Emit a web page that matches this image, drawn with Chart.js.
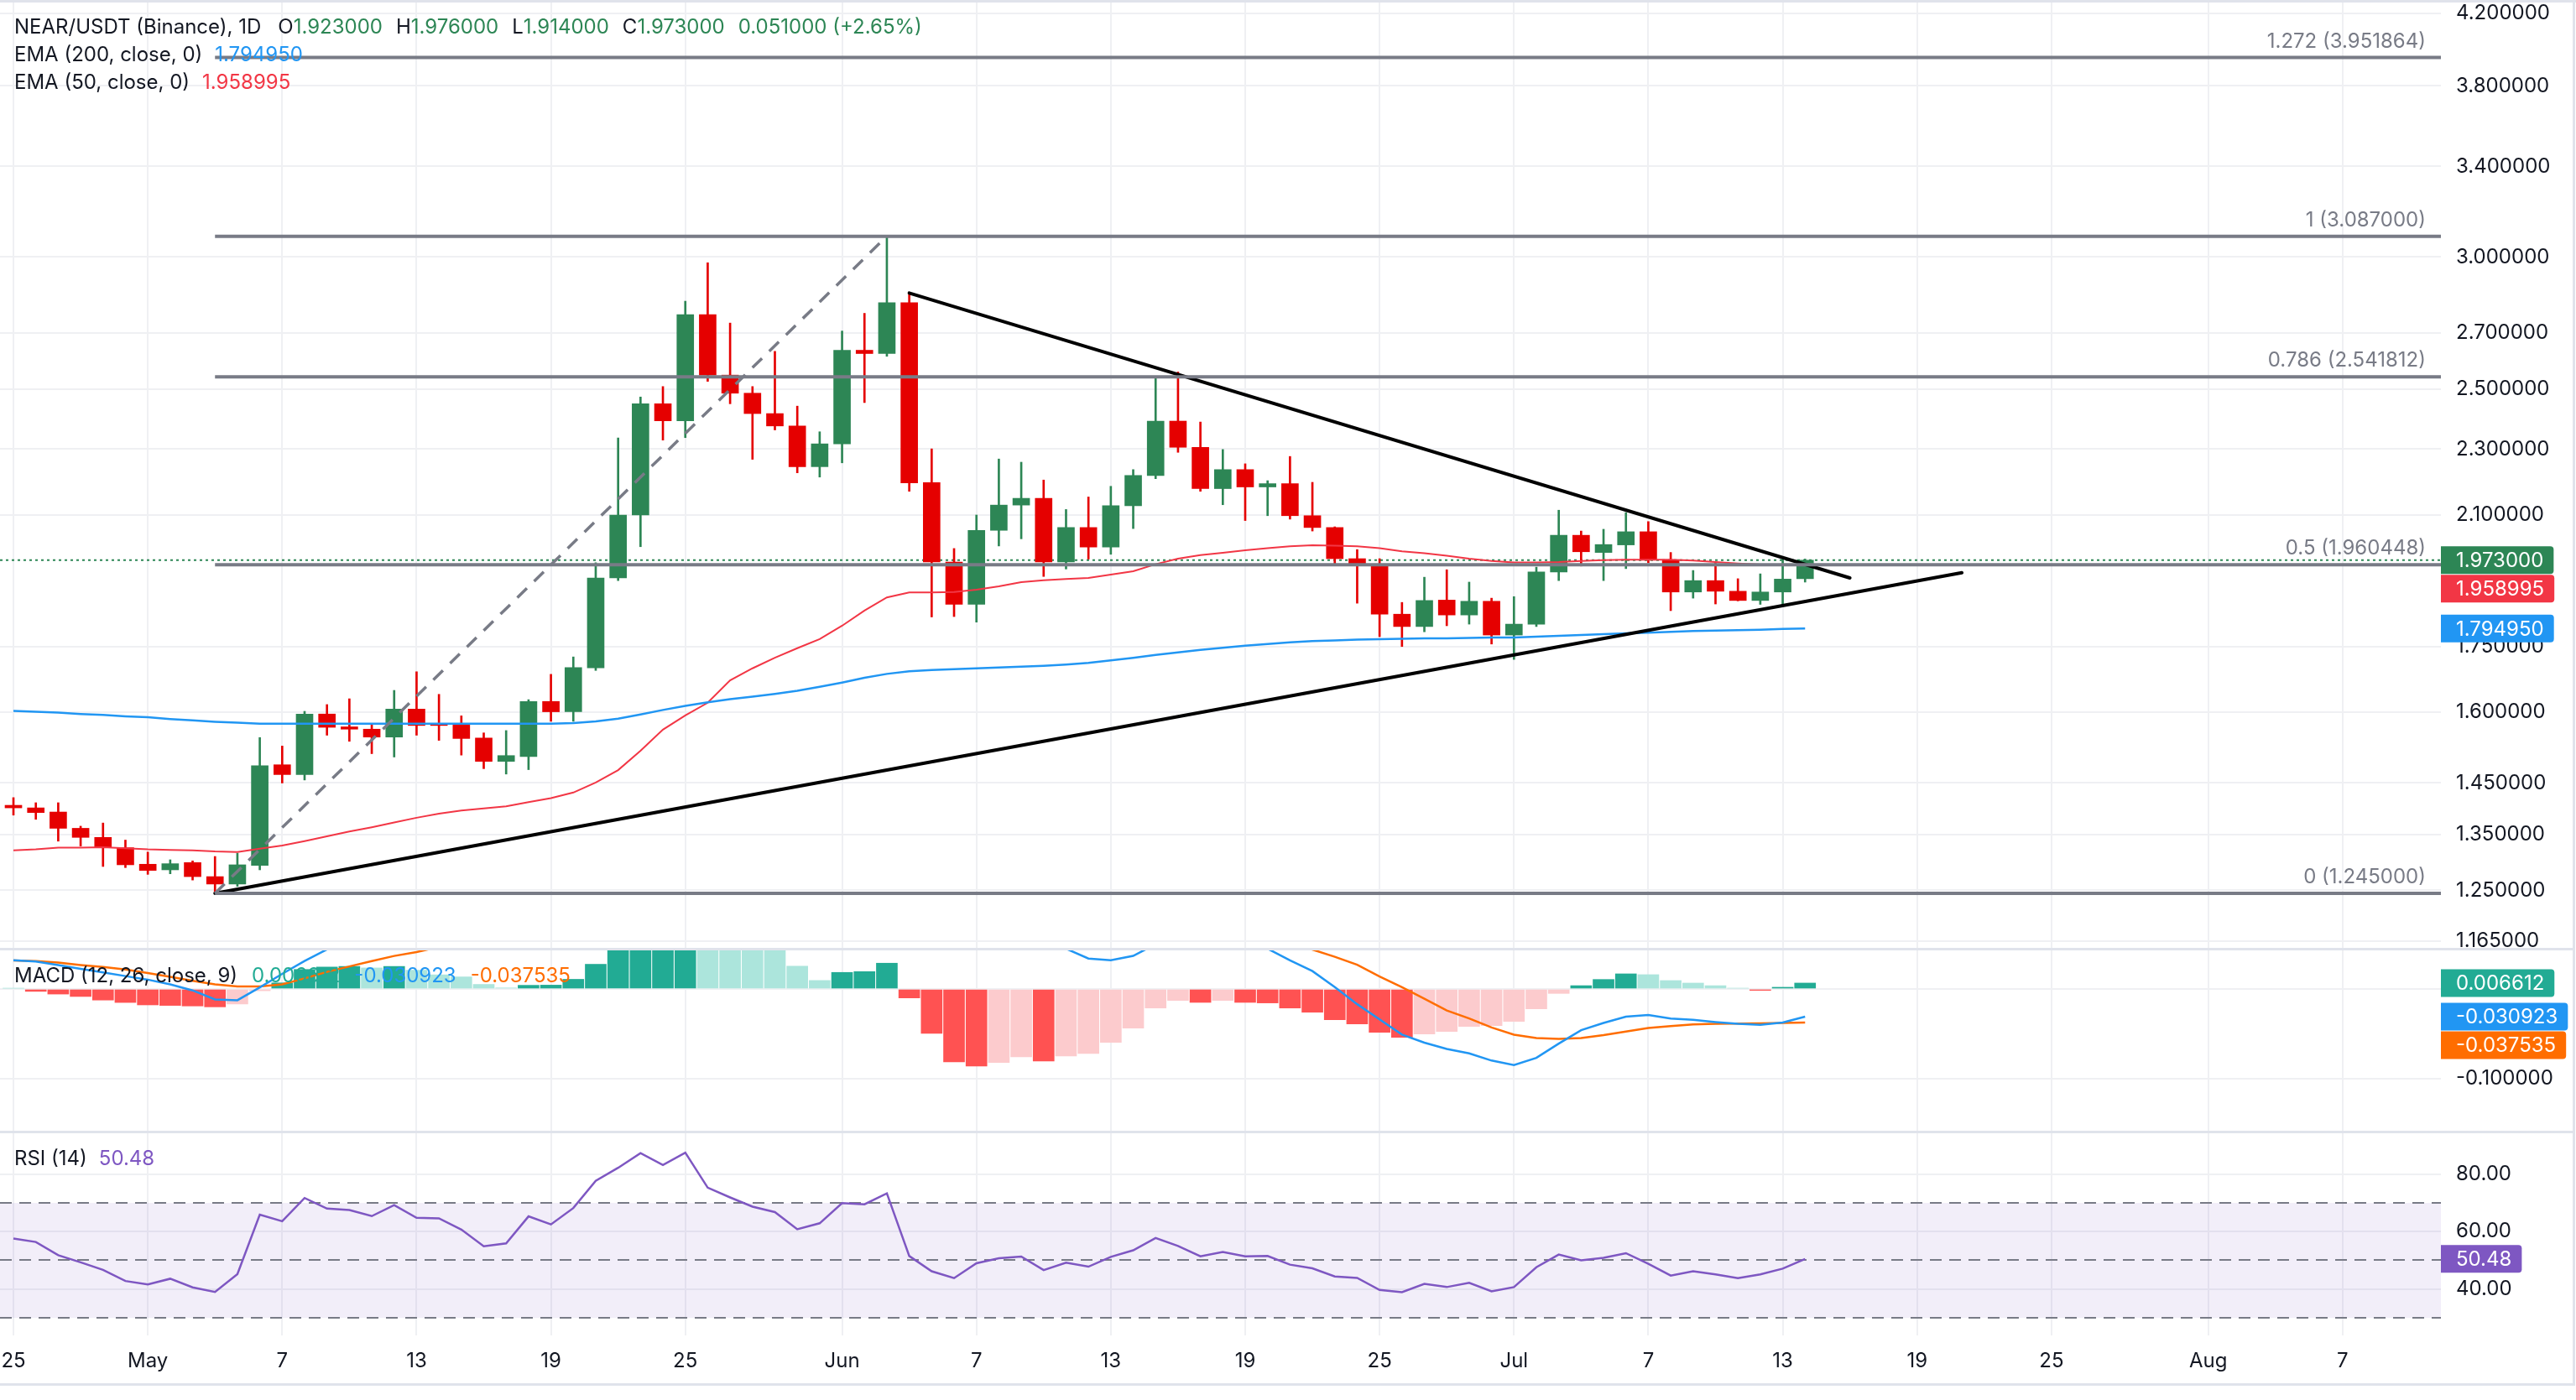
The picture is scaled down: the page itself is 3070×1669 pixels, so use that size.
<!DOCTYPE html>
<html>
<head>
<meta charset="utf-8">
<title>NEAR/USDT 1D</title>
<script src="https://cdn.jsdelivr.net/npm/chart.js@4.4.1/dist/chart.umd.min.js"></script>
<style>
  html, body { margin: 0; padding: 0; background: #ffffff; }
  #wrap { position: relative; width: 3070px; height: 1669px; overflow: hidden; background: #ffffff; }
  #wrap canvas { position: absolute; left: 0; }
  .rule { position: absolute; background: #e0e3eb; }
</style>
</head>
<body>
<div id="wrap">
  <canvas id="priceChart" width="3070" height="1131" style="top:0px"></canvas>
  <canvas id="macdChart" width="3070" height="215" style="top:1133px"></canvas>
  <canvas id="rsiChart" width="3070" height="298" style="top:1351px"></canvas>
  <div class="rule" style="left:0;top:0;width:3070px;height:3px"></div>
  <div class="rule" style="left:0;top:1130px;width:3068px;height:3px"></div>
  <div class="rule" style="left:0;top:1348px;width:3068px;height:3px"></div>
  <div class="rule" style="left:0;top:1649px;width:3068px;height:3px"></div>
  <div class="rule" style="left:3066px;top:0;width:3px;height:1652px"></div>
</div>
<script>
const FONT = 'Inter, "Noto Sans", sans-serif';
const TEXT = '#131722';
const GRID = '#eff0f3';
const UP = '#2d8655';
const DOWN = '#e50000';

// daily candles, 25 Apr .. 14 Jul (index 0 = 25 Apr)
const opens = [
  1.406, 1.401, 1.393, 1.362, 1.345, 1.326,
  1.296, 1.286, 1.299, 1.274, 1.261, 1.294, 1.487, 1.467, 1.595, 1.567, 1.562, 1.545, 1.606, 1.573, 1.573, 1.543,
  1.494, 1.504, 1.623, 1.600, 1.700, 1.925, 2.100, 2.449, 2.392, 2.770, 2.548, 2.485, 2.416, 2.375, 2.245,
  2.317, 2.637, 2.625, 2.816, 2.196, 1.968, 1.856, 2.056, 2.129, 2.149, 1.968, 2.064, 2.009, 2.127, 2.218,
  2.391, 2.306, 2.178, 2.236, 2.183, 2.193, 2.098, 2.064, 1.977, 1.961, 1.831, 1.800, 1.867, 1.829, 1.864,
  1.779, 1.806, 1.941, 2.042, 1.994, 2.015, 2.052, 1.973, 1.888, 1.918, 1.890, 1.866, 1.888, 1.923
];
const highs = [
  1.421, 1.411, 1.411, 1.366, 1.372, 1.340,
  1.318, 1.304, 1.302, 1.310, 1.316, 1.544, 1.526, 1.601, 1.616, 1.629, 1.573, 1.648, 1.691, 1.639, 1.591, 1.554,
  1.559, 1.627, 1.685, 1.726, 1.966, 2.336, 2.472, 2.508, 2.822, 2.976, 2.738, 2.508, 2.633, 2.441, 2.356,
  2.708, 2.775, 3.087, 2.854, 2.301, 2.005, 2.100, 2.269, 2.259, 2.204, 2.116, 2.153, 2.185, 2.236, 2.542,
  2.559, 2.388, 2.299, 2.254, 2.202, 2.277, 2.197, 2.066, 2.002, 1.977, 1.861, 1.927, 1.947, 1.914, 1.872,
  1.876, 1.954, 2.114, 2.054, 2.059, 2.107, 2.081, 1.994, 1.945, 1.966, 1.923, 1.936, 1.975, 1.976
];
const lows = [
  1.387, 1.379, 1.338, 1.329, 1.292, 1.290,
  1.278, 1.279, 1.268, 1.245, 1.257, 1.286, 1.450, 1.456, 1.549, 1.536, 1.510, 1.503, 1.549, 1.538, 1.507, 1.479,
  1.468, 1.477, 1.579, 1.579, 1.694, 1.918, 2.010, 2.329, 2.337, 2.526, 2.449, 2.268, 2.362, 2.226, 2.213,
  2.257, 2.453, 2.615, 2.170, 1.824, 1.825, 1.811, 2.012, 2.032, 1.929, 1.949, 1.976, 1.989, 2.061, 2.208,
  2.290, 2.170, 2.130, 2.084, 2.098, 2.088, 2.054, 1.961, 1.859, 1.775, 1.751, 1.787, 1.802, 1.806, 1.757,
  1.720, 1.800, 1.918, 1.957, 1.918, 1.950, 1.966, 1.840, 1.872, 1.857, 1.865, 1.856, 1.856, 1.914
];
const closes = [
  1.401, 1.392, 1.362, 1.345, 1.326, 1.295,
  1.285, 1.297, 1.274, 1.261, 1.295, 1.485, 1.467, 1.595, 1.566, 1.562, 1.545, 1.606, 1.570, 1.570, 1.542, 1.494,
  1.506, 1.623, 1.600, 1.701, 1.925, 2.100, 2.449, 2.392, 2.770, 2.548, 2.485, 2.416, 2.375, 2.245, 2.317,
  2.637, 2.625, 2.816, 2.195, 1.968, 1.856, 2.056, 2.129, 2.149, 1.968, 2.064, 2.009, 2.127, 2.218, 2.391,
  2.306, 2.178, 2.236, 2.183, 2.193, 2.098, 2.064, 1.977, 1.961, 1.831, 1.800, 1.866, 1.829, 1.864, 1.779,
  1.806, 1.941, 2.042, 1.996, 2.016, 2.052, 1.973, 1.888, 1.918, 1.890, 1.866, 1.888, 1.922, 1.973
];
const ema200 = [
  1.602, 1.600, 1.598, 1.595, 1.593, 1.590,
  1.588, 1.584, 1.581, 1.578, 1.576, 1.574, 1.574, 1.574, 1.574, 1.574, 1.574, 1.574, 1.574, 1.574, 1.574, 1.574,
  1.574, 1.574, 1.574, 1.575, 1.579, 1.585, 1.594, 1.604, 1.613, 1.621, 1.628, 1.634, 1.640, 1.647, 1.656,
  1.666, 1.677, 1.686, 1.692, 1.695, 1.697, 1.699, 1.701, 1.703, 1.705, 1.708, 1.712, 1.718, 1.724, 1.731,
  1.737, 1.743, 1.748, 1.753, 1.757, 1.761, 1.764, 1.766, 1.768, 1.769, 1.770, 1.771, 1.771, 1.772, 1.773,
  1.773, 1.775, 1.777, 1.779, 1.781, 1.783, 1.785, 1.787, 1.789, 1.790, 1.791, 1.792, 1.794, 1.794950
];
const ema50 = [
  1.321, 1.323, 1.326, 1.326, 1.327, 1.325,
  1.323, 1.322, 1.321, 1.319, 1.318, 1.324, 1.330, 1.338, 1.347, 1.356, 1.364, 1.373, 1.382, 1.390, 1.396, 1.400,
  1.404, 1.412, 1.420, 1.431, 1.451, 1.476, 1.516, 1.561, 1.592, 1.620, 1.671, 1.699, 1.724, 1.747, 1.769,
  1.802, 1.840, 1.874, 1.887, 1.887, 1.888, 1.894, 1.903, 1.914, 1.919, 1.922, 1.925, 1.934, 1.943, 1.962,
  1.977, 1.987, 1.993, 2.000, 2.006, 2.011, 2.014, 2.013, 2.011, 2.006, 1.997, 1.992, 1.985, 1.977, 1.971,
  1.967, 1.967, 1.968, 1.971, 1.973, 1.974, 1.974, 1.974, 1.972, 1.968, 1.964, 1.961, 1.959, 1.958995
];
const macdLine = [
  0.0322, 0.0306, 0.0268, 0.0225, 0.0185, 0.0144,
  0.0104, 0.0051, -0.0016, -0.0117, -0.0126, 0.0018, 0.0169, 0.0312, 0.0442, 0.052, 0.057, 0.063, 0.066, 0.066, 0.064, 0.058,
  0.055, 0.060, 0.063, 0.070, 0.092, 0.118, 0.155, 0.185, 0.220, 0.232, 0.236, 0.232, 0.226, 0.210, 0.199,
  0.205, 0.205, 0.215, 0.190, 0.150, 0.110, 0.089, 0.075, 0.064, 0.050, 0.045, 0.034, 0.032, 0.037, 0.050,
  0.057, 0.058, 0.057, 0.052, 0.045, 0.032, 0.020, 0.002, -0.017, -0.034, -0.051, -0.060, -0.067, -0.072, -0.080,
  -0.085, -0.077, -0.061, -0.046, -0.038, -0.031, -0.029, -0.033, -0.0345, -0.037, -0.039, -0.040, -0.0375, -0.030923
];
const signalLine = [
  0.0319, 0.0312, 0.0295, 0.0268, 0.0245, 0.0218,
  0.0178, 0.0135, 0.0091, 0.0051, 0.0027, 0.0027, 0.0051, 0.0118, 0.0191, 0.0252, 0.0312, 0.0369, 0.0412, 0.047, 0.050, 0.053,
  0.054, 0.056, 0.059, 0.060, 0.064, 0.070, 0.085, 0.100, 0.120, 0.137, 0.151, 0.160, 0.170, 0.184, 0.189,
  0.187, 0.186, 0.186, 0.200, 0.200, 0.191, 0.175, 0.157, 0.140, 0.130, 0.120, 0.106, 0.092, 0.081, 0.071,
  0.070, 0.073, 0.070, 0.067, 0.061, 0.053, 0.044, 0.036, 0.027, 0.014, 0.002, -0.011, -0.024, -0.033, -0.043,
  -0.051, -0.0548, -0.0558, -0.0548, -0.0515, -0.0475, -0.0437, -0.0415, -0.0395, -0.039, -0.0387, -0.0385, -0.038, -0.037535
];
const histogram = [
  0.0008, -0.0027, -0.0057, -0.0084, -0.0124, -0.0151,
  -0.0178, -0.0184, -0.0190, -0.0200, -0.0168, -0.0020, 0.0068, 0.0218, 0.0245, 0.0252, 0.0235, 0.0252, 0.0210, 0.0158, 0.0135, 0.0051,
  0.0012, 0.0041, 0.0043, 0.0108, 0.0276, 0.048, 0.070, 0.085, 0.100, 0.095, 0.085, 0.072, 0.056, 0.0255, 0.0095,
  0.0185, 0.0194, 0.0288, -0.0100, -0.0497, -0.0815, -0.0862, -0.0822, -0.0759, -0.0806, -0.0750, -0.0722, -0.0597, -0.0438, -0.0213,
  -0.0128, -0.0150, -0.0128, -0.0150, -0.0156, -0.0213, -0.0260, -0.0344, -0.0391, -0.0484, -0.0541, -0.0503, -0.0475, -0.0419, -0.0410,
  -0.0363, -0.0222, -0.0050, 0.0037, 0.0106, 0.0169, 0.0160, 0.0094, 0.0066, 0.0037, 0.0009, -0.0016, 0.0019, 0.006612
];
const rsi = [
  57.6, 56.4, 51.8, 49.3, 46.7, 42.8,
  41.6, 43.6, 40.6, 39.0, 45.2, 65.9, 63.6, 71.7, 68.0, 67.5, 65.4, 69.2, 64.8, 64.6, 60.7, 54.9,
  55.9, 65.3, 62.5, 68.2, 77.7, 82.2, 87.3, 83.2, 87.5, 75.3, 71.9, 68.7, 66.8, 60.8, 62.9,
  69.9, 69.5, 73.3, 51.5, 46.2, 43.8, 49.0, 50.7, 51.3, 46.6, 49.2, 47.8, 51.2, 53.5, 57.8,
  55.0, 51.4, 52.9, 51.4, 51.5, 48.5, 47.2, 44.4, 43.9, 39.7, 38.9, 41.8, 40.7, 42.2, 39.2,
  40.7, 47.6, 52.0, 50.0, 50.9, 52.5, 48.8, 44.7, 46.2, 45.1, 43.8, 45.1, 47.1, 50.48
];

const tickDays = [0, 6, 12, 18, 24, 30, 37, 43, 49, 55, 61, 67, 73, 79, 85, 91, 98, 104];
const tickLabels = ['25', 'May', '7', '13', '19', '25', 'Jun', '7', '13', '19', '25', 'Jul', '7', '13', '19', '25', 'Aug', '7'];
const priceTicks = [4.2, 3.8, 3.4, 3.0, 2.7, 2.5, 2.3, 2.1, 1.75, 1.6, 1.45, 1.35, 1.25, 1.165];
const macdTicks = [0, -0.1];
const rsiTicks = [80, 60, 40];
const rsiBands = [70, 50, 30];

// drawings
const fibRatios = [0, 0.5, 0.786, 1, 1.272];
const fibPrices = [1.245, 1.960448, 2.541812, 3.087, 3.951864];
const fibStartDay = 9;
const impulseLine = { days: [9, 39], prices: [1.245, 3.087] };
const resistanceLine = { days: [40, 82], prices: [2.854, 1.925] };
const supportLine = { days: [9, 87], prices: [1.245, 1.939] };

// visible axis ranges
const X_MIN = -0.6, X_MAX = 108.39;
const PRICE_MIN = 1.1532, PRICE_MAX = 4.264;
const MACD_MIN = -0.1584, MACD_MAX = 0.0431;
const RSI_MIN = 23.87, RSI_MAX = 94.23;
const AXIS_W = 161;

Chart.defaults.font.family = FONT;
Chart.defaults.color = TEXT;

const last = closes.length - 1;
const pts = arr => arr.map((v, i) => ({ x: i, y: v }));
const seg = line => line.days.map((d, i) => ({ x: d, y: line.prices[i] }));
const fmt6 = v => v.toFixed(6);

function zeroPad(s) {
  s.paddingTop = 0; s.paddingBottom = 0; s.paddingLeft = 0; s.paddingRight = 0;
}

function xScale(showLabels) {
  return {
    type: 'linear', min: X_MIN, max: X_MAX, offset: false,
    grid: { color: GRID, lineWidth: 2, drawTicks: false, offset: false },
    border: { display: false },
    ticks: {
      display: showLabels, padding: 16, color: TEXT, font: { size: 24 },
      maxRotation: 0, autoSkip: false,
      callback: v => tickLabels[tickDays.indexOf(v)] ?? ''
    },
    afterBuildTicks: s => { s.ticks = tickDays.map(v => ({ value: v })); },
    afterFit: s => { s.height = showLabels ? 57 : 0; zeroPad(s); }
  };
}

function yScale(type, min, max, ticks, fmt) {
  return {
    type, position: 'right', min, max, beginAtZero: false,
    grid: { color: GRID, lineWidth: 2, drawTicks: false },
    border: { display: false },
    ticks: { padding: 18, color: TEXT, font: { size: 24 }, callback: v => fmt(Number(v)) },
    afterBuildTicks: s => { s.ticks = ticks.map(v => ({ value: v })); },
    afterFit: s => { s.width = AXIS_W; zeroPad(s); }
  };
}

const valueBoxes = {
  id: 'valueBoxes',
  afterDraw(chart, args, opts) {
    const { ctx, chartArea, scales } = chart;
    const h = 33, r = 4;
    let lastBottom = -Infinity;
    ctx.save();
    ctx.font = `24px ${FONT}`;
    ctx.textBaseline = 'middle';
    for (const item of opts.items || []) {
      let cy = scales.y.getPixelForValue(item.value);
      if (cy - h / 2 < lastBottom + 1) cy = lastBottom + 1 + h / 2;
      const x0 = chartArea.right;
      const w = ctx.measureText(item.text).width + 30;
      const t = cy - h / 2, b = cy + h / 2;
      ctx.fillStyle = item.color;
      ctx.beginPath();
      ctx.moveTo(x0, t);
      ctx.lineTo(x0 + w - r, t);
      ctx.quadraticCurveTo(x0 + w, t, x0 + w, t + r);
      ctx.lineTo(x0 + w, b - r);
      ctx.quadraticCurveTo(x0 + w, b, x0 + w - r, b);
      ctx.lineTo(x0, b);
      ctx.closePath();
      ctx.fill();
      ctx.fillStyle = '#ffffff';
      ctx.fillText(item.text, x0 + 18, cy + 1);
      lastBottom = b;
    }
    ctx.restore();
  }
};

const paneLegend = {
  id: 'paneLegend',
  afterDraw(chart, args, opts) {
    const ctx = chart.ctx;
    ctx.save();
    ctx.font = `24px ${FONT}`;
    ctx.textBaseline = 'middle';
    for (const line of opts.lines || []) {
      let x = 17;
      for (const [text, color, gap] of line.segs) {
        ctx.fillStyle = color;
        ctx.fillText(text, x, line.y);
        x += ctx.measureText(text).width + (gap || 0);
      }
    }
    ctx.restore();
  }
};

const fibLabels = {
  id: 'fibLabels',
  afterDatasetsDraw(chart) {
    const { ctx, chartArea, scales: { y } } = chart;
    ctx.save();
    ctx.font = `24px ${FONT}`;
    ctx.fillStyle = '#787b86';
    ctx.textAlign = 'right';
    ctx.textBaseline = 'middle';
    fibRatios.forEach((ratio, i) => {
      ctx.fillText(`${ratio} (${fmt6(fibPrices[i])})`, chartArea.right - 18, y.getPixelForValue(fibPrices[i]) - 19);
    });
    ctx.restore();
  }
};

const rsiBand = {
  id: 'rsiBand',
  beforeDatasetsDraw(chart) {
    const { ctx, chartArea: a, scales: { y } } = chart;
    const top = y.getPixelForValue(rsiBands[0]);
    const bottom = y.getPixelForValue(rsiBands[rsiBands.length - 1]);
    ctx.save();
    ctx.fillStyle = 'rgba(126, 87, 194, 0.1)';
    ctx.fillRect(a.left, top, a.right - a.left, bottom - top);
    ctx.strokeStyle = '#787b86';
    ctx.lineWidth = 2;
    ctx.setLineDash([14, 9]);
    for (const v of rsiBands) {
      const py = Math.round(y.getPixelForValue(v));
      ctx.beginPath();
      ctx.moveTo(a.left, py);
      ctx.lineTo(a.right, py);
      ctx.stroke();
    }
    ctx.restore();
  }
};

const baseOptions = {
  responsive: false,
  animation: false,
  devicePixelRatio: 1,
  events: []
};
const lineBase = { type: 'line', pointRadius: 0, fill: false, tension: 0 };

// price pane
const candleColors = closes.map((c, i) => (c >= opens[i] ? UP : DOWN));
const change = closes[last] - closes[last - 1];
const changePct = (change / closes[last - 1] * 100).toFixed(2);
const lastColor = closes[last] >= opens[last] ? UP : DOWN;

new Chart(document.getElementById('priceChart'), {
  type: 'bar',
  data: {
    datasets: [
      ...fibPrices.map(p => ({
        ...lineBase, data: [{ x: fibStartDay, y: p }, { x: X_MAX, y: p }],
        borderColor: '#787b86', borderWidth: 4, order: 0
      })),
      { ...lineBase, data: seg(impulseLine), borderColor: '#787b86', borderWidth: 3.5, borderDash: [16, 12], order: 0 },
      { ...lineBase, data: seg(resistanceLine), borderColor: '#000000', borderWidth: 4, borderCapStyle: 'round', order: 0 },
      { ...lineBase, data: seg(supportLine), borderColor: '#000000', borderWidth: 4, borderCapStyle: 'round', order: 0 },
      { ...lineBase, data: pts(ema200), borderColor: '#2196f3', borderWidth: 2.5, order: 1 },
      { ...lineBase, data: pts(ema50), borderColor: '#f23645', borderWidth: 2, order: 1 },
      {
        type: 'bar', data: opens.map((o, i) => ({ x: i, y: [o, closes[i]] })),
        backgroundColor: candleColors, barThickness: 20, grouped: false, order: 2
      },
      {
        type: 'bar', data: lows.map((l, i) => ({ x: i, y: [l, highs[i]] })),
        backgroundColor: candleColors, barThickness: 2, grouped: false, order: 3
      },
      {
        ...lineBase, data: [{ x: X_MIN, y: closes[last] }, { x: X_MAX, y: closes[last] }],
        borderColor: UP, borderWidth: 2, borderDash: [3, 4], order: 4
      }
    ]
  },
  options: {
    ...baseOptions,
    layout: { padding: { top: 3, left: 0, right: 0, bottom: 0 } },
    scales: {
      x: xScale(false),
      y: yScale('logarithmic', PRICE_MIN, PRICE_MAX, priceTicks, fmt6)
    },
    plugins: {
      legend: { display: false },
      tooltip: { enabled: false },
      valueBoxes: {
        items: [
          { value: closes[last], color: UP, text: fmt6(closes[last]) },
          { value: ema50[last], color: '#f23645', text: fmt6(ema50[last]) },
          { value: ema200[last], color: '#2196f3', text: fmt6(ema200[last]) }
        ]
      },
      paneLegend: {
        lines: [
          { y: 33, segs: [
            ['NEAR/USDT (Binance), 1D', TEXT, 20],
            ['O', TEXT], [fmt6(opens[last]), lastColor, 16],
            ['H', TEXT], [fmt6(highs[last]), lastColor, 16],
            ['L', TEXT], [fmt6(lows[last]), lastColor, 16],
            ['C', TEXT], [fmt6(closes[last]), lastColor, 16],
            [`${fmt6(change)} (+${changePct}%)`, lastColor]
          ] },
          { y: 66, segs: [['EMA (200, close, 0)', TEXT, 15], [fmt6(ema200[last]), '#2196f3']] },
          { y: 99, segs: [['EMA (50, close, 0)', TEXT, 15], [fmt6(ema50[last]), '#f23645']] }
        ]
      }
    }
  },
  plugins: [fibLabels, valueBoxes, paneLegend]
});

// MACD pane
const histColors = histogram.map((v, i) => {
  const prev = i > 0 ? histogram[i - 1] : v;
  if (v >= 0) return i > 0 && v >= prev ? '#22ab94' : '#ace5dc';
  return i > 0 && v <= prev ? '#ff5252' : '#fccbcd';
});

new Chart(document.getElementById('macdChart'), {
  type: 'bar',
  data: {
    datasets: [
      { ...lineBase, data: pts(macdLine), borderColor: '#2196f3', borderWidth: 2.5, order: 0 },
      { ...lineBase, data: pts(signalLine), borderColor: '#ff6d00', borderWidth: 2.5, order: 0 },
      { type: 'bar', data: pts(histogram), backgroundColor: histColors, barThickness: 25, grouped: false, order: 1 }
    ]
  },
  options: {
    ...baseOptions,
    layout: { padding: 0 },
    scales: {
      x: xScale(false),
      y: yScale('linear', MACD_MIN, MACD_MAX, macdTicks, fmt6)
    },
    plugins: {
      legend: { display: false },
      tooltip: { enabled: false },
      valueBoxes: {
        items: [
          { value: histogram[last], color: '#22ab94', text: fmt6(histogram[last]) },
          { value: macdLine[last], color: '#2196f3', text: fmt6(macdLine[last]) },
          { value: signalLine[last], color: '#ff6d00', text: fmt6(signalLine[last]) }
        ]
      },
      paneLegend: {
        lines: [{ y: 31, segs: [
          ['MACD (12, 26, close, 9)', TEXT, 17],
          [fmt6(histogram[last]), '#22ab94', 17],
          [fmt6(macdLine[last]), '#2196f3', 17],
          [fmt6(signalLine[last]), '#ff6d00']
        ] }]
      }
    }
  },
  plugins: [valueBoxes, paneLegend]
});

// RSI pane
new Chart(document.getElementById('rsiChart'), {
  type: 'line',
  data: {
    datasets: [{ ...lineBase, data: pts(rsi), borderColor: '#7e57c2', borderWidth: 2.5 }]
  },
  options: {
    ...baseOptions,
    layout: { padding: 0 },
    scales: {
      x: xScale(true),
      y: yScale('linear', RSI_MIN, RSI_MAX, rsiTicks, v => v.toFixed(2))
    },
    plugins: {
      legend: { display: false },
      tooltip: { enabled: false },
      valueBoxes: { items: [{ value: rsi[last], color: '#7e57c2', text: rsi[last].toFixed(2) }] },
      paneLegend: { lines: [{ y: 31, segs: [['RSI (14)', TEXT, 14], [rsi[last].toFixed(2), '#7e57c2']] }] }
    }
  },
  plugins: [rsiBand, valueBoxes, paneLegend]
});
</script>
</body>
</html>
